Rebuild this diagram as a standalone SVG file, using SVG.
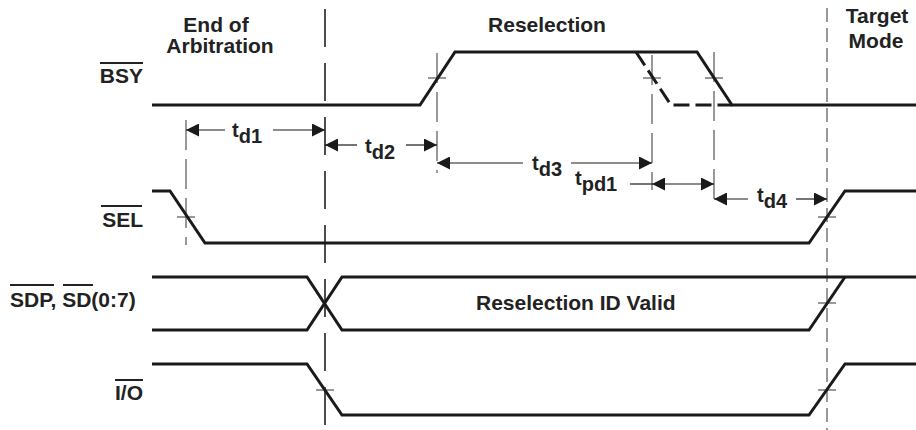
<svg xmlns="http://www.w3.org/2000/svg" width="916" height="430" viewBox="0 0 916 430">
<defs>
<style>
.sig{fill:none;stroke:#1a1a1a;stroke-width:3;stroke-linejoin:miter}
.alt{fill:none;stroke:#1a1a1a;stroke-width:3;stroke-dasharray:16 6}
.ref{stroke:#333;stroke-width:1;stroke-dasharray:30 9;fill:none}
.main{stroke:#222;stroke-width:1.6;stroke-dasharray:38 16;fill:none}
.tgt{stroke:#333;stroke-width:1;stroke-dasharray:14 6;fill:none}
.tick{stroke:#333;stroke-width:1}
.dim{stroke:#1a1a1a;stroke-width:1.2;fill:none}
.ov{stroke:#222;stroke-width:2}
text{font-family:"Liberation Sans",Arial,sans-serif;font-weight:bold;fill:#222}
.lbl{font-size:21px}
.tm{font-size:20px}
</style>
<marker id="ah" markerWidth="13" markerHeight="13" refX="13" refY="6.5" orient="auto-start-reverse" markerUnits="userSpaceOnUse">
<path d="M0,0 L13,6.5 L0,13 z" fill="#1a1a1a"/>
</marker>
</defs>

<g id="titles">
<text class="lbl" x="216" y="32" text-anchor="middle">End of</text>
<text class="lbl" x="220" y="53" text-anchor="middle">Arbitration</text>
<text class="lbl" x="547" y="32" text-anchor="middle">Reselection</text>
<text class="lbl" x="877" y="23" text-anchor="middle">Target</text>
<text class="lbl" x="876" y="48" text-anchor="middle">Mode</text>
</g>

<g id="references">
<line class="main" x1="325" y1="9" x2="325" y2="430"/>
<line class="tgt" x1="827" y1="8" x2="827" y2="430"/>
<line class="ref" x1="186" y1="120" x2="186" y2="245"/>
<line class="ref" x1="437" y1="53" x2="437" y2="173"/>
<line class="ref" x1="652" y1="55" x2="652" y2="190"/>
<line class="ref" x1="714" y1="52" x2="714" y2="206"/>
<line class="tick" x1="428" y1="78" x2="446" y2="78"/>
<line class="tick" x1="643" y1="78" x2="661" y2="78"/>
<line class="tick" x1="705" y1="78" x2="723" y2="78"/>
<line class="tick" x1="177" y1="217" x2="195" y2="217"/>
<line class="tick" x1="818" y1="217" x2="836" y2="217"/>
<line class="tick" x1="818" y1="303" x2="836" y2="303"/>
<line class="tick" x1="316" y1="390" x2="334" y2="390"/>
<line class="tick" x1="818" y1="390" x2="836" y2="390"/>
</g>

<g id="BSY">
<text class="lbl" x="143" y="83" text-anchor="end">BSY</text>
<line class="ov" x1="100" y1="63" x2="143" y2="63"/>
<path class="sig" d="M152,105 H420 L455,52 H697 L732,105 H916"/>
<path class="alt" d="M636,52 L671,105 H732"/>
</g>

<g id="SEL">
<text class="lbl" x="143" y="227" text-anchor="end">SEL</text>
<line class="ov" x1="101" y1="206" x2="142" y2="206"/>
<path class="sig" d="M152,191 H170 L205,243 H809 L845,191 H916"/>
</g>

<g id="SD">
<text class="lbl" x="10" y="307">SDP, SD(0:7)</text>
<line class="ov" x1="10" y1="285" x2="54" y2="285"/>
<line class="ov" x1="63" y1="285" x2="93" y2="285"/>
<path class="sig" d="M152,277 H307 L342,330 H809 L845,277"/>
<path class="sig" d="M152,330 H307 L342,277 H916"/>
<text class="lbl" x="476" y="310">Reselection ID Valid</text>
</g>

<g id="IO">
<text class="lbl" x="143" y="400" text-anchor="end">I/O</text>
<line class="ov" x1="115" y1="380" x2="143" y2="380"/>
<path class="sig" d="M152,364 H307 L342,415 H809 L845,364 H916"/>
</g>

<g id="connectors">
<line class="dim" x1="225" y1="130" x2="186" y2="130" marker-end="url(#ah)"/>
<line class="dim" x1="273" y1="130" x2="325" y2="130" marker-end="url(#ah)"/>
<line class="dim" x1="357" y1="145" x2="325" y2="145" marker-end="url(#ah)"/>
<line class="dim" x1="406" y1="145" x2="437" y2="145" marker-end="url(#ah)"/>
<line class="dim" x1="523" y1="163" x2="437" y2="163" marker-end="url(#ah)"/>
<line class="dim" x1="571" y1="163" x2="652" y2="163" marker-end="url(#ah)"/>
<line class="dim" x1="630" y1="184" x2="652" y2="184"/>
<line class="dim" x1="652" y1="184" x2="714" y2="184" marker-start="url(#ah)" marker-end="url(#ah)"/>
<line class="dim" x1="748" y1="199" x2="714" y2="199" marker-end="url(#ah)"/>
<line class="dim" x1="796" y1="199" x2="827" y2="199" marker-end="url(#ah)"/>
</g>

<g id="timing-labels">
<text class="tm" x="232" y="137">t<tspan dy="6">d1</tspan></text>
<text class="tm" x="365" y="153">t<tspan dy="6">d2</tspan></text>
<text class="tm" x="532" y="170">t<tspan dy="6">d3</tspan></text>
<text class="tm" x="575" y="185">t<tspan dy="6">pd1</tspan></text>
<text class="tm" x="757" y="202">t<tspan dy="6">d4</tspan></text>
</g>
</svg>
